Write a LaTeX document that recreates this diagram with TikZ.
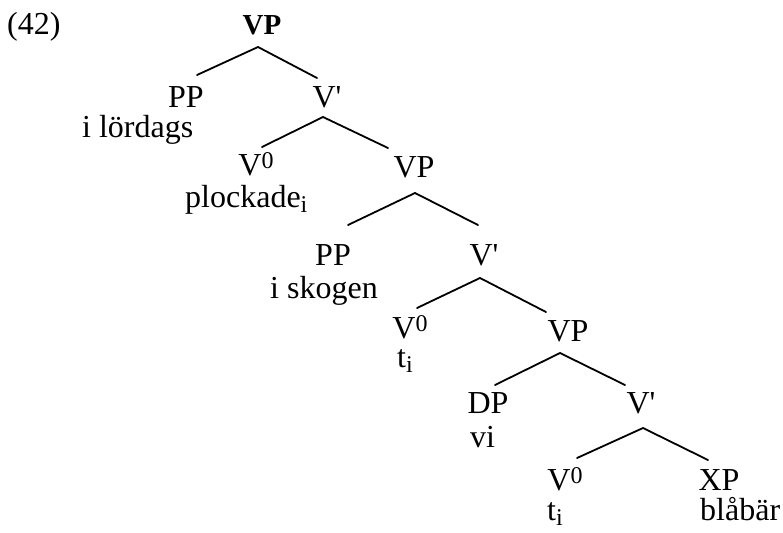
\documentclass[tikz,border=0pt]{standalone}
\usepackage{fontspec}
\setmainfont{Liberation Serif}
\newcommand{\supz}{\raisebox{6.5pt}{\fontsize{24}{24}\selectfont 0}}
\newcommand{\subi}{\raisebox{-5pt}{\fontsize{24}{24}\selectfont i}}
\newcommand{\prm}{\textquotesingle}
\begin{document}
\begin{tikzpicture}[x=1pt,y=-1pt,font=\fontsize{32}{38}\selectfont]
\tikzset{
  cat/.style={inner sep=0pt, anchor=base},
  word/.style={inner sep=0pt, anchor=base west},
  branch/.style={line width=1.8pt, line join=round, line cap=round}
}
\useasboundingbox (0,0) rectangle (783,532);
\node[word] (ex) at (7,35) {(42)};
\node[cat,font=\fontsize{29}{34}\selectfont\bfseries] (vp0) at (262,35) {VP};
\node[cat] (pp1) at (186,107) {PP};
\node[cat] (vb1) at (327,107) {V\prm};
\node[word] (w1) at (82,137) {i lördags};
\node[cat] (v01) at (256,175) {V\supz};
\node[cat] (vp1) at (414,177) {VP};
\node[word] (w2) at (185,207) {plockade\subi};
\node[cat] (pp2) at (333,265) {PP};
\node[cat] (vb2) at (484,265) {V\prm};
\node[word] (w3) at (270,298) {i skogen};
\node[cat] (v02) at (410,338) {V\supz};
\node[cat] (vp2) at (568,341) {VP};
\node[word] (w4) at (397,367) {t\subi};
\node[cat] (dp) at (488,413) {DP};
\node[cat] (vb3) at (641,413) {V\prm};
\node[word] (w5) at (470,447) {vi};
\node[cat] (v03) at (565,490) {V\supz};
\node[cat] (xp) at (719,490) {XP};
\node[word] (w6) at (547,520) {t\subi};
\node[word] (w7) at (700,520) {blåbär};

\draw[branch] ([shift={(11,-32)}]pp1.base) -- ([shift={(-4,12)}]vp0.base) -- ([shift={(-10,-29)}]vb1.base);
\draw[branch] ([shift={(6,-28)}]v01.base) -- ([shift={(-4,10)}]vb1.base) -- ([shift={(-26,-29)}]vp1.base);
\draw[branch] ([shift={(15,-40)}]pp2.base) -- ([shift={(1,16)}]vp1.base) -- ([shift={(-6,-40)}]vb2.base);
\draw[branch] ([shift={(7,-30)}]v02.base) -- ([shift={(-4,13)}]vb2.base) -- ([shift={(-22,-29)}]vp2.base);
\draw[branch] ([shift={(7,-28)}]dp.base) -- ([shift={(-8,12)}]vp2.base) -- ([shift={(-16,-28)}]vb3.base);
\draw[branch] ([shift={(12,-32)}]v03.base) -- ([shift={(2,15)}]vb3.base) -- ([shift={(-11,-30)}]xp.base);
\end{tikzpicture}
\end{document}
